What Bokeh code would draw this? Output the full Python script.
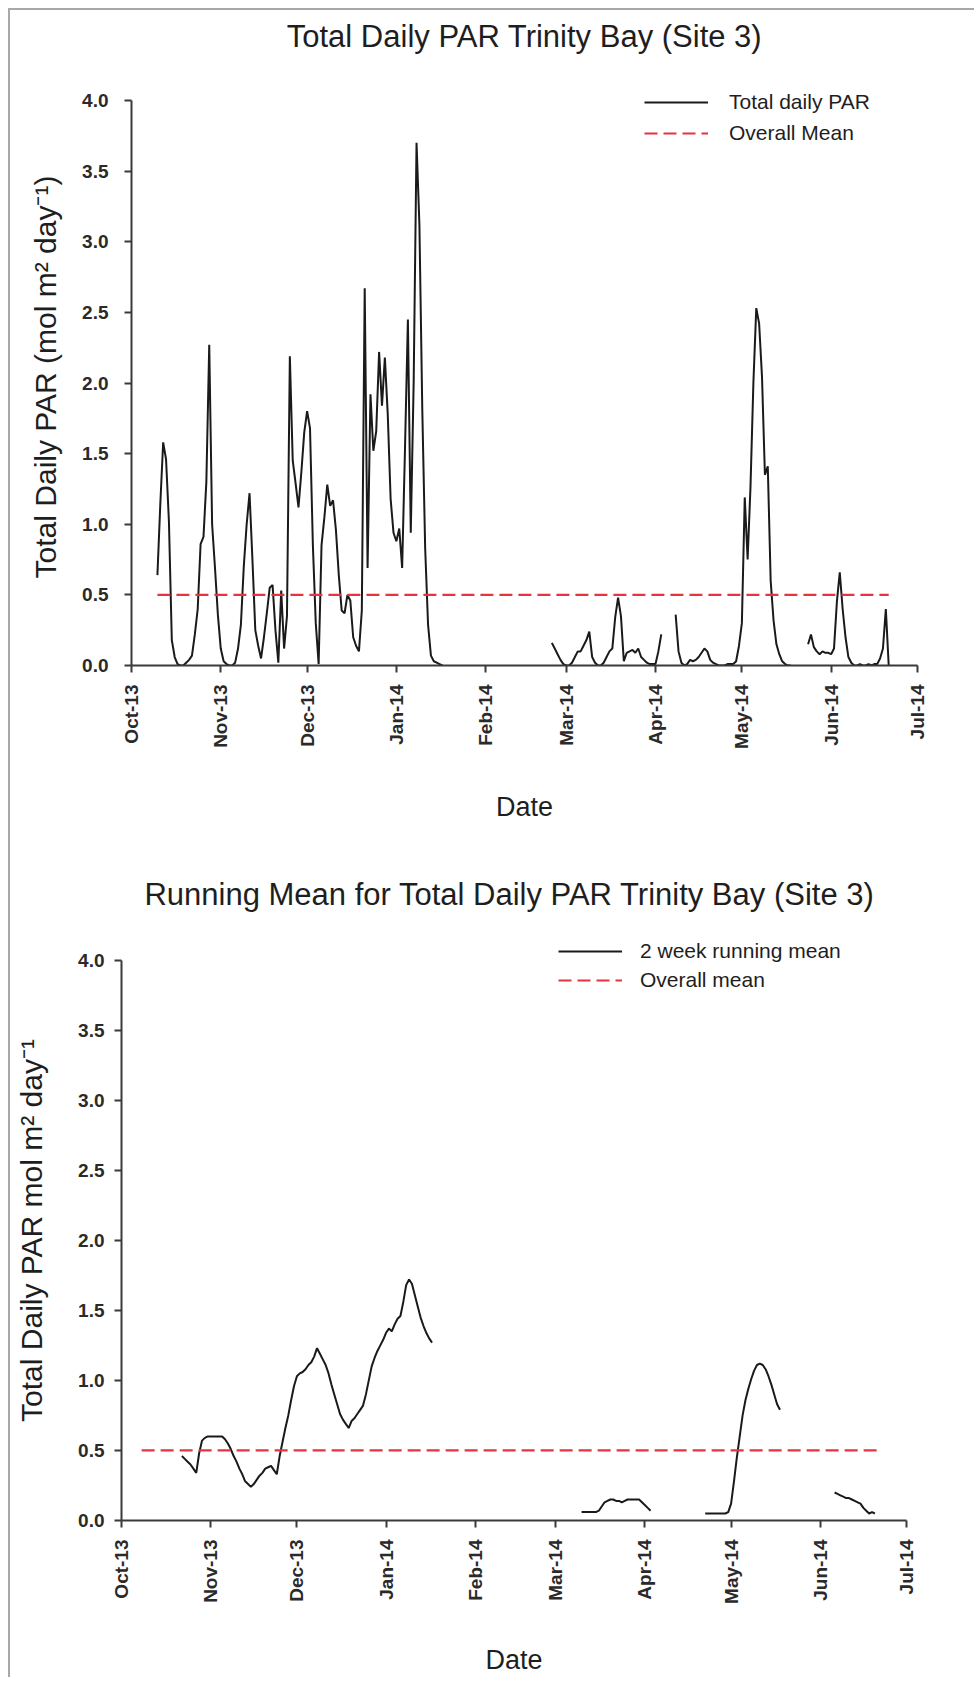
import math
import pandas as pd
from bokeh.plotting import figure
from bokeh.models import (Range1d, FixedTicker, NumeralTickFormatter, Legend, LegendItem)
from bokeh.layouts import column
from bokeh.embed import file_html
from bokeh.resources import INLINE

# ---------------- data ----------------
month_ticks = ["2013-10-01", "2013-11-01", "2013-12-01", "2014-01-01", "2014-02-01",
               "2014-03-01", "2014-04-01", "2014-05-01", "2014-06-01", "2014-07-01"]
month_labels = ["Oct-13", "Nov-13", "Dec-13", "Jan-14", "Feb-14",
                "Mar-14", "Apr-14", "May-14", "Jun-14", "Jul-14"]
y_ticks = [0.0, 0.5, 1.0, 1.5, 2.0, 2.5, 3.0, 3.5, 4.0]

overall_mean = 0.5
mean_span_top = ["2013-10-10", "2014-06-21"]
mean_span_bottom = ["2013-10-08", "2014-06-21"]

# Total daily PAR, daily values, in segments (gaps = no data)
par_a_start = "2013-10-10"
par_a = [0.64, 1.14, 1.58, 1.46, 1.02, 0.18, 0.06, 0.01, 0.0, 0.0,
         0.02, 0.04, 0.07, 0.22, 0.40, 0.86, 0.91, 1.30, 2.27, 1.00,
         0.69, 0.36, 0.12, 0.03, 0.01, 0.0, 0.0, 0.02, 0.12, 0.29,
         0.70, 1.00, 1.22, 0.75, 0.25, 0.14, 0.05, 0.20, 0.37, 0.55,
         0.57, 0.25, 0.02, 0.53, 0.12, 0.35, 2.19, 1.45, 1.29, 1.12,
         1.37, 1.65, 1.80, 1.68, 0.85, 0.30, 0.01, 0.85, 1.05, 1.28,
         1.13, 1.17, 0.96, 0.64, 0.39, 0.37, 0.50, 0.46, 0.20, 0.14,
         0.10, 0.39, 2.67, 0.69, 1.92, 1.52, 1.66, 2.22, 1.84, 2.18,
         1.78, 1.18, 0.94, 0.88, 0.97, 0.69, 1.54, 2.45, 0.94, 2.00,
         3.70, 3.12, 1.81, 0.83, 0.29, 0.07, 0.03, 0.02, 0.01, 0.0]
par_b_start = "2014-02-24"
par_b = [0.16, 0.12, 0.08, 0.04, 0.01, 0.0, 0.0, 0.02, 0.06, 0.10,
         0.10, 0.14, 0.18, 0.24, 0.06, 0.02, 0.0, 0.0, 0.02, 0.06,
         0.10, 0.12, 0.34, 0.48, 0.35, 0.03, 0.09, 0.10, 0.11, 0.09,
         0.12, 0.06, 0.04, 0.02, 0.01, 0.01, 0.01, 0.10, 0.22]
par_c_start = "2014-04-08"
par_c = [0.36, 0.10, 0.02, 0.0, 0.01, 0.04, 0.03, 0.04, 0.06, 0.09,
         0.12, 0.10, 0.04, 0.02, 0.01, 0.0, 0.0, 0.0, 0.01, 0.01,
         0.01, 0.03, 0.14, 0.30, 1.19, 0.75, 1.27, 2.00, 2.53, 2.42,
         2.04, 1.35, 1.41, 0.60, 0.32, 0.15, 0.08, 0.03, 0.01, 0.0, 0.0]
par_d_start = "2014-05-24"
par_d = [0.15, 0.22, 0.13, 0.10, 0.08, 0.10, 0.09, 0.09, 0.08, 0.12,
         0.45, 0.66, 0.40, 0.20, 0.06, 0.02, 0.0, 0.0, 0.01, 0.0,
         0.0, 0.01, 0.0, 0.01, 0.01, 0.05, 0.12, 0.40, 0.0]

# 2 week running mean, daily values, in segments
rm_a_start = "2013-10-22"
rm_a = [0.46, 0.44, 0.42, 0.40, 0.37, 0.34, 0.48, 0.57, 0.59, 0.60,
        0.60, 0.60, 0.60, 0.60, 0.60, 0.58, 0.55, 0.51, 0.46, 0.42,
        0.37, 0.33, 0.28, 0.26, 0.24, 0.26, 0.29, 0.32, 0.34, 0.37,
        0.38, 0.39, 0.36, 0.33, 0.46, 0.56, 0.66, 0.75, 0.86, 0.96,
        1.03, 1.05, 1.06, 1.08, 1.11, 1.13, 1.17, 1.23, 1.19, 1.15,
        1.11, 1.05, 0.97, 0.90, 0.83, 0.76, 0.72, 0.69, 0.66, 0.71,
        0.73, 0.76, 0.79, 0.82, 0.90, 1.00, 1.10, 1.16, 1.21, 1.25,
        1.29, 1.34, 1.37, 1.35, 1.40, 1.44, 1.46, 1.56, 1.68, 1.72,
        1.69, 1.61, 1.53, 1.45, 1.39, 1.34, 1.30, 1.27]
rm_b_start = "2014-03-10"
rm_b = [0.06, 0.06, 0.06, 0.06, 0.06, 0.06, 0.07, 0.10, 0.13, 0.14,
        0.15, 0.15, 0.14, 0.14, 0.13, 0.14, 0.15, 0.15, 0.15, 0.15,
        0.15, 0.13, 0.11, 0.09, 0.07]
rm_c_start = "2014-04-22"
rm_c = [0.05, 0.05, 0.05, 0.05, 0.05, 0.05, 0.05, 0.05, 0.06, 0.12,
        0.28, 0.45, 0.60, 0.75, 0.86, 0.94, 1.01, 1.07, 1.11, 1.12,
        1.11, 1.08, 1.03, 0.97, 0.90, 0.83, 0.79]
rm_d_start = "2014-06-06"
rm_d = [0.20, 0.19, 0.18, 0.17, 0.16, 0.16, 0.15, 0.14, 0.13, 0.12,
        0.09, 0.07, 0.05, 0.06, 0.05]

# ---------------- styling ----------------
FONT = "Liberation Sans"
BLACK = "#1a1a1a"
RED = "#e3343f"
AXIS = "#3a3a3a"


def seg(start, vals):
    return pd.date_range(start, periods=len(vals), freq="D"), vals


tick_dates = pd.to_datetime(month_ticks)
tick_ms = [float(t.value // 10**6) for t in tick_dates]
overrides = {ms: lab for ms, lab in zip(tick_ms, month_labels)}


def make_fig(title, ylabel, width, height, bl, br, bt, bb, ytop,
             title_standoff, title_lh, ylab_size, ylab_standoff, ytick_standoff, xlab_standoff):
    p = figure(width=width, height=height, x_axis_type="datetime",
               output_backend="svg", toolbar_location=None,
               x_range=Range1d(tick_dates[0], tick_dates[-1]),
               y_range=Range1d(0, ytop),
               min_border_left=bl, min_border_right=br,
               min_border_top=bt, min_border_bottom=bb)
    p.frame_align = False
    p.outline_line_color = None
    p.xgrid.visible = False
    p.ygrid.visible = False
    p.background_fill_color = "white"
    p.border_fill_color = "white"
    p.title.text = title
    p.title.align = "center"
    p.title.vertical_align = "top"
    p.title.text_font = FONT
    p.title.text_font_size = "31px"
    p.title.text_font_style = "normal"
    p.title.text_color = "#1e1e1e"
    p.title.text_line_height = title_lh
    p.title.standoff = title_standoff

    xa = p.xaxis[0]
    xa.ticker = FixedTicker(ticks=tick_ms)
    xa.major_label_overrides = overrides
    xa.major_label_orientation = math.pi / 2
    xa.axis_label = "Date"
    ya = p.yaxis[0]
    ya.ticker = FixedTicker(ticks=y_ticks)
    ya.formatter = NumeralTickFormatter(format="0.0")
    ya.bounds = (y_ticks[0], y_ticks[-1])
    ya.axis_label = ylabel
    for ax in (xa, ya):
        ax.axis_line_color = AXIS
        ax.axis_line_width = 2
        ax.major_tick_line_color = AXIS
        ax.major_tick_line_width = 2
        ax.major_tick_in = 0
        ax.major_tick_out = 7
        ax.minor_tick_line_color = None
        ax.major_label_text_font = FONT
        ax.major_label_text_font_size = "19px"
        ax.major_label_text_font_style = "bold"
        ax.major_label_text_color = "#2a2a2a"
        ax.axis_label_text_font = FONT
        ax.axis_label_text_font_style = "normal"
        ax.axis_label_text_color = "#1e1e1e"
    xa.axis_label_text_font_size = "27px"
    ya.axis_label_text_font_size = ylab_size
    xa.major_label_standoff = 12
    xa.axis_label_standoff = xlab_standoff
    ya.major_label_standoff = ytick_standoff
    ya.axis_label_standoff = ylab_standoff
    return p


def add_series(p, segments, mean_val, mean_span, labels, leg_xy, spacing, standoff):
    r_main = None
    for start, vals in segments:
        xs, ys = seg(start, vals)
        r = p.line(xs, ys, line_color=BLACK, line_width=2)
        if r_main is None:
            r_main = r
    r_mean = p.line(pd.to_datetime(mean_span), [mean_val, mean_val], line_color=RED,
                    line_width=2.2, line_dash="13 6")
    legend = Legend(items=[LegendItem(label=labels[0], renderers=[r_main]),
                           LegendItem(label=labels[1], renderers=[r_mean])],
                    location=leg_xy, margin=0, padding=0, spacing=spacing,
                    glyph_width=64, glyph_height=22, label_height=22,
                    label_standoff=standoff,
                    label_text_font=FONT, label_text_font_size="21px",
                    label_text_color="#1e1e1e",
                    border_line_color=None, background_fill_alpha=0)
    p.add_layout(legend)


W = 964
p1 = make_fig("Total Daily PAR Trinity Bay (Site 3)\n ",
              "Total Daily PAR (mol m\u00b2 day\u207b\u00b9)",
              W, 835, 121, 57, 78, 180, 4.085, 4, 0.89, "30px", 17, 16, 40)
add_series(p1, [(par_a_start, par_a), (par_b_start, par_b), (par_c_start, par_c),
                (par_d_start, par_d)],
           overall_mean, mean_span_top, ["Total daily PAR", "Overall Mean"], (513, 520), 7, 21)

p2 = make_fig("Running Mean for Total Daily PAR  Trinity Bay (Site 3)",
              "Total Daily PAR mol m\u00b2 day\u207b\u00b9",
              W, 832, 111, 68, 95, 152, 4.14, 54, 1.2, "30px", 27, 10, 38)
add_series(p2, [(rm_a_start, rm_a), (rm_b_start, rm_b), (rm_c_start, rm_c),
                (rm_d_start, rm_d)],
           overall_mean, mean_span_bottom, ["2 week running mean", "Overall mean"],
           (437, 528), 5, 18)

layout = column(p1, p2, margin=(8, 0, 0, 8),
                styles={"border-top": "2px solid #a8a8a8", "border-left": "2px solid #a8a8a8"})

open("out.html", "w").write(file_html(layout, INLINE))
